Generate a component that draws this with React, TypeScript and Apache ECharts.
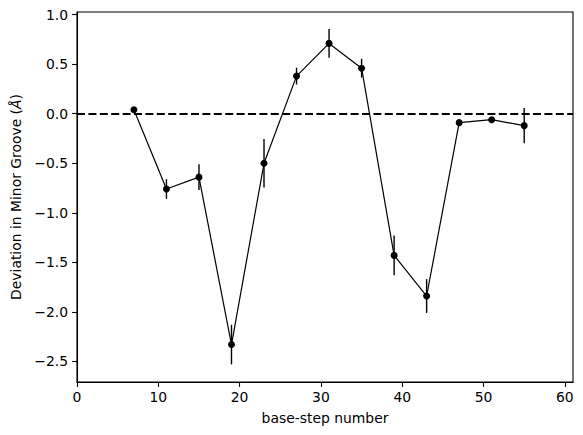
import React, { useEffect, useRef } from "react";
import * as echarts from "echarts";

const steps = [7, 11, 15, 19, 23, 27, 31, 35, 39, 43, 47, 51, 55];
const values = [0.04, -0.76, -0.64, -2.33, -0.5, 0.38, 0.71, 0.46, -1.43, -1.84, -0.09, -0.06, -0.12];
const errors = [0.02, 0.1, 0.13, 0.2, 0.245, 0.085, 0.146, 0.095, 0.2, 0.17, 0.03, 0.02, 0.177];
const xTicks = [0, 10, 20, 30, 40, 50, 60];
const yTicks = [-2.5, -2, -1.5, -1, -0.5, 0, 0.5, 1];

const FONT = "DejaVu Sans";

export default function App() {
  const ref = useRef<HTMLDivElement>(null);
  useEffect(() => {
    const chart = echarts.init(ref.current!, null, { renderer: "svg" });
    const lineData = steps.map((s, i) => [s, values[i]]);
    const errData = steps.map((s, i) => [s, values[i] - errors[i], values[i] + errors[i]]);
    chart.setOption({
      animation: false,
      backgroundColor: "#ffffff",
      grid: {
        left: 77,
        top: 12,
        right: 10,
        bottom: 53,
        show: true,
        borderColor: "#000",
        borderWidth: 1.1,
        backgroundColor: "transparent",
      },
      xAxis: {
        type: "value",
        min: 0,
        max: 61,
        name: "base-step number",
        nameLocation: "middle",
        nameGap: 29,
        nameTextStyle: { fontFamily: FONT, fontSize: 13.9, color: "#000" },
        axisLine: { show: true, onZero: false, lineStyle: { color: "#000", width: 1.1 } },
        axisTick: { show: true, length: 4.9, inside: false, customValues: xTicks, lineStyle: { color: "#000", width: 1.1 } },
        axisLabel: {
          customValues: xTicks,
          margin: 8,
          fontFamily: FONT,
          fontSize: 13.9,
          color: "#000",
          formatter: (v: number) => String(v),
        },
        splitLine: { show: false },
      },
      yAxis: {
        type: "value",
        min: -2.708,
        max: 1.027,
        name: "Deviation in Minor Groove ({i|Å})",
        nameLocation: "middle",
        nameRotate: 90,
        nameGap: 47,
        nameTextStyle: {
          fontFamily: FONT,
          fontSize: 13.9,
          color: "#000",
          rich: { i: { fontFamily: FONT, fontSize: 13.9, fontStyle: "italic", color: "#000" } },
        },
        axisLine: { show: true, onZero: false, lineStyle: { color: "#000", width: 1.1 } },
        axisTick: { show: true, length: 4.9, inside: false, customValues: yTicks, lineStyle: { color: "#000", width: 1.1 } },
        axisLabel: {
          customValues: yTicks,
          margin: 9,
          fontFamily: FONT,
          fontSize: 13.9,
          color: "#000",
          formatter: (v: number) => (v < 0 ? "\u2212" : "") + Math.abs(v).toFixed(1),
        },
        splitLine: { show: false },
      },
      series: [
        {
          type: "line",
          data: lineData,
          symbol: "circle",
          symbolSize: 7,
          itemStyle: { color: "#000" },
          lineStyle: { color: "#000", width: 1.2 },
          markLine: {
            silent: true,
            symbol: "none",
            label: { show: false },
            lineStyle: { color: "#000", width: 2, type: [8, 3.4] },
            data: [{ yAxis: 0 }],
          },
          z: 3,
        },
        {
          type: "custom",
          data: errData,
          renderItem: (params: any, api: any) => {
            const x = api.value(0);
            const p1 = api.coord([x, api.value(1)]);
            const p2 = api.coord([x, api.value(2)]);
            return {
              type: "line",
              shape: { x1: p1[0], y1: p1[1], x2: p2[0], y2: p2[1] },
              style: { stroke: "#000", lineWidth: 1.4 },
            };
          },
          z: 4,
        },
      ],
    });
    return () => chart.dispose();
  }, []);
  return (
    <div
      ref={ref}
      style={{ position: "fixed", left: 0, top: 0, width: 583, height: 435, background: "#fff" }}
    />
  );
}
